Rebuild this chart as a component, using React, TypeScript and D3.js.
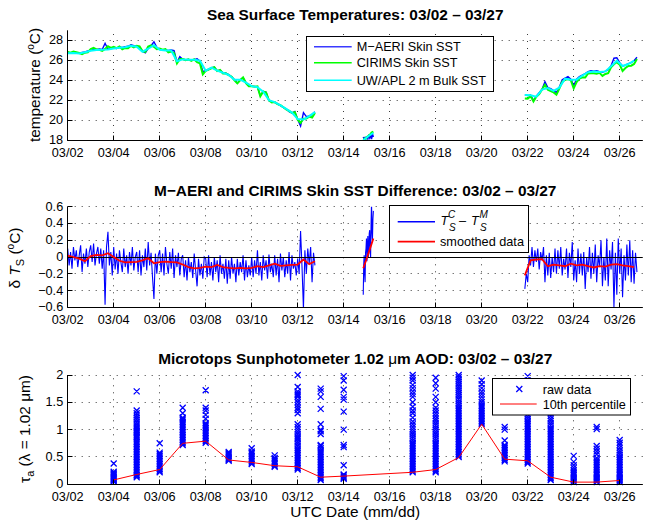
import React from "react";
import * as d3 from "d3";

const FONT = "'Liberation Sans', Arial, Helvetica, sans-serif";

// ---- time axis: days after 03/02 00:00 UTC ----
const dayDomain = [0, 25];
const dayTicks = [0, 2, 4, 6, 8, 10, 12, 14, 16, 18, 20, 22, 24];
const dayTickLabels = ["03/02", "03/04", "03/06", "03/08", "03/10", "03/12", "03/14", "03/16", "03/18", "03/20", "03/22", "03/24", "03/26"];

// ---- skin SST, three cruise segments sampled on regular intervals ----
const skinStarts = [0, 12.85, 19.875];
const skinSteps = [0.125, 0.04, 0.125];

const maeriSkinSst = [
  [26.74, 26.70, 26.76, 26.72, 26.70, 26.78, 26.84, 26.92, 26.98, 27.08,
   27.05, 27.12, 27.08, 27.70, 27.10, 27.18, 27.22, 27.18, 27.30, 27.28,
   27.35, 27.40, 27.55, 27.45, 27.38, 27.30, 26.90, 26.75, 27.20, 27.45,
   27.85, 27.30, 27.08, 27.02, 27.00, 26.98, 27.02, 26.96, 25.80, 26.35,
   26.10, 26.05, 26.08, 26.00, 26.06, 26.15, 25.90, 24.85, 24.95, 25.05,
   25.25, 25.30, 24.95, 25.00, 24.75, 24.70, 24.55, 24.35, 24.05, 23.70,
   24.05, 24.25, 23.75, 23.50, 23.40, 23.38, 23.30, 22.45, 22.85, 22.80,
   21.95, 21.85, 21.78, 21.62, 21.45, 21.28, 21.10, 20.85, 20.70, 20.85,
   20.05, 19.40, 20.75, 20.35, 20.42, 20.55, 20.82],
  [18.30, 18.05, 18.25, 18.15, 18.30, 18.10, 18.40, 18.20, 18.60, 18.10, 18.60, 18.30],
  [22.55, 22.45, 22.50, 21.98, 22.40, 22.75, 23.10, 23.85, 23.25, 23.15,
   22.95, 22.75, 23.30, 24.05, 24.20, 24.35, 24.10, 23.45, 24.10, 24.35,
   24.50, 24.65, 24.85, 24.95, 24.90, 24.95, 24.85, 24.78, 24.90, 25.05,
   25.45, 26.20, 26.25, 25.75, 25.40, 25.50, 25.65, 25.75, 25.95, 26.30],
];

// CIRIMS minus M-AERI skin temperature, sampled twice as often as maeriSkinSst
const diffSteps = [0.0625, 0.02, 0.0625];
const cirimsMinusMaeri = [
  [0.10, -0.10, 0.06, -0.14, 0.12, -0.04, 0.08, -0.12, 0.02, 0.14, -0.18, 0.04, -0.08, 0.10, -0.12, 0.06,
   0.14, -0.06, 0.16, -0.10, 0.04, 0.12, -0.08, 0.10, -0.14, 0.08, -0.57, 0.12, 0.30, -0.10, 0.06, -0.22,
   0.12, -0.15, 0.04, -0.20, 0.08, -0.06, -0.18, 0.10, -0.12, 0.02, -0.20, 0.06, -0.10, 0.12, -0.16, 0.00,
   0.06, -0.18, 0.08, -0.22, 0.02, -0.12, 0.10, -0.16, 0.18, -0.10, 0.05, -0.24, -0.50, 0.04, -0.20, 0.02,
   0.08, -0.18, 0.04, -0.22, 0.12, -0.08, -0.20, 0.06, -0.14, 0.10, -0.25, 0.02, -0.12, 0.05, -0.22, -0.02,
   0.02, -0.24, -0.04, -0.28, 0.00, -0.18, -0.06, -0.25, 0.04, -0.16, -0.35, -0.02, -0.22, -0.08, -0.26, 0.00,
   -0.02, -0.24, 0.02, -0.22, -0.06, -0.28, 0.00, -0.18, -0.04, -0.30, 0.02, -0.20, -0.08, -0.26, -0.02, -0.32,
   -0.04, -0.26, 0.00, -0.20, -0.08, -0.30, -0.02, -0.22, -0.06, -0.18, 0.02, -0.28, -0.04, -0.24, -0.10, -0.22,
   0.00, -0.24, -0.04, -0.20, 0.08, -0.22, -0.06, -0.28, 0.02, -0.16, -0.04, -0.26, 0.03, -0.18, -0.08, -0.24,
   0.02, -0.22, -0.02, -0.30, 0.04, -0.16, 0.00, -0.24, -0.04, -0.20, 0.06, -0.28, 0.02, -0.14, -0.06, -0.22,
   -0.02, -0.20, 0.31, -0.12, -0.62, 0.08, -0.20, 0.10, -0.08, 0.12, -0.30, 0.05, -0.10],
  [-0.45, -0.10, 0.02, -0.20, -0.30, 0.05, 0.10, 0.22, -0.05, 0.12, 0.25, 0.00,
   0.05, 0.28, 0.32, 0.08, 0.00, 0.40, 0.65, 0.30, 0.20, 0.45, 0.55],
  [-0.38, -0.20, -0.30, 0.02, -0.10, 0.12, -0.12, 0.08, -0.06, 0.10, -0.15, 0.06, -0.04, 0.12, -0.30, 0.02,
   -0.22, 0.05, -0.25, 0.00, -0.18, 0.10, -0.20, 0.08, -0.14, 0.12, -0.22, -0.02, -0.15, 0.10, -0.25, 0.05,
   -0.12, 0.18, -0.28, -0.04, -0.30, 0.10, -0.20, 0.04, -0.22, 0.06, -0.38, 0.00, -0.18, 0.12, -0.26, 0.05,
   -0.20, 0.15, -0.30, 0.02, -0.12, 0.20, -0.35, 0.00, -0.28, 0.22, -0.35, 0.08, -0.15, 0.18, -0.60, 0.05,
   -0.45, 0.22, -0.20, 0.10, -0.48, 0.02, -0.28, 0.15, -0.22, 0.20, -0.30, 0.08, -0.32, 0.05, -0.18],
];

// ---- bulk SST and smoothed difference on a coarser grid ----
const bulkStarts = [0, 12.85, 19.875];
const bulkSteps = [0.25, 0.11, 0.25];

const uwBulkSst = [
  [26.70, 26.72, 26.68, 26.80, 26.95, 27.02, 27.05, 27.08, 27.18, 27.25,
   27.30, 27.45, 27.35, 26.85, 27.15, 27.50, 27.05, 26.98, 26.98, 25.90,
   26.08, 26.05, 26.04, 25.95, 24.95, 25.25, 24.95, 24.75, 24.52, 24.05,
   24.05, 23.75, 23.40, 23.30, 22.85, 22.00, 21.80, 21.48, 21.12, 20.75,
   20.10, 20.05, 20.40, 20.80],
  [18.00, 18.18, 18.38, 18.55, 18.72],
  [22.52, 22.48, 22.35, 23.05, 23.20, 22.92, 23.25, 24.15, 24.05, 24.05,
   24.45, 24.80, 24.88, 24.82, 24.88, 25.40, 25.95, 25.42, 25.62, 25.95],
];

const smoothedDiff = [
  [0.015, 0.00, -0.02, -0.05, 0.01, 0.025, 0.02, 0.045, 0.00, -0.045,
   -0.065, -0.06, -0.058, -0.04, -0.015, -0.075, -0.06, -0.055, -0.06, -0.065,
   -0.09, -0.12, -0.135, -0.13, -0.115, -0.12, -0.095, -0.12, -0.13, -0.135,
   -0.13, -0.135, -0.13, -0.11, -0.12, -0.10, -0.08, -0.105, -0.10, -0.095,
   -0.09, -0.03, -0.085, -0.05],
  [-0.135, -0.05, 0.04, 0.13, 0.22],
  [-0.22, -0.04, -0.03, -0.025, -0.11, -0.09, -0.10, -0.11, -0.08, -0.10,
   -0.09, -0.11, -0.125, -0.11, -0.115, -0.09, -0.085, -0.10, -0.11, -0.12],
];

const sstTicks = [18, 20, 22, 24, 26, 28];
const sstTickLabels = ["18", "20", "22", "24", "26", "28"];
const diffTicks = [-0.6, -0.4, -0.2, 0, 0.2, 0.4, 0.6];
const diffTickLabels = ["\u22120.6", "\u22120.4", "\u22120.2", "0", "0.2", "0.4", "0.6"];
const aodTicks = [0, 0.5, 1, 1.5, 2];
const aodTickLabels = ["0", "0.5", "1", "1.5", "2"];

// ---- Microtops AOD at 1.02 um ----
const aodDays = [2, 3, 4, 5, 6, 7, 8, 9, 10, 11, 12, 15, 16, 17, 18, 19, 20, 21, 22, 23, 24];
const aodRaw = [
  [0.05, 0.06, 0.07, 0.08, 0.09, 0.10, 0.11, 0.12, 0.13, 0.15, 0.17, 0.19, 0.21, 0.23, 0.38],
  [0.13, 0.15, 0.17, 0.20, 0.23, 0.26, 0.29, 0.32, 0.35, 0.38, 0.41, 0.44, 0.47, 0.50, 0.53, 0.56, 0.59, 0.62, 0.65, 0.68, 0.71, 0.74, 0.77, 0.80, 0.84, 0.87, 0.90, 0.93, 0.95, 0.98, 1.00, 1.03, 1.06, 1.10, 1.14, 1.18, 1.22, 1.26, 1.30, 1.35, 1.70],
  [0.22, 0.25, 0.28, 0.31, 0.34, 0.37, 0.40, 0.43, 0.46, 0.49, 0.52, 0.55, 0.58, 0.75],
  [0.72, 0.75, 0.78, 0.81, 0.84, 0.87, 0.90, 0.93, 0.96, 0.99, 1.02, 1.05, 1.08, 1.11, 1.14, 1.17, 1.20, 1.22, 1.30, 1.40],
  [0.76, 0.79, 0.82, 0.85, 0.88, 0.91, 0.94, 0.97, 1.00, 1.03, 1.06, 1.09, 1.12, 1.20, 1.27, 1.35, 1.40, 1.72],
  [0.43, 0.45, 0.47, 0.49, 0.51, 0.53, 0.55, 0.57, 0.59],
  [0.37, 0.40, 0.43, 0.46, 0.49, 0.52, 0.55, 0.58, 0.60, 0.66],
  [0.32, 0.34, 0.37, 0.40, 0.43, 0.46, 0.48, 0.53],
  [0.27, 0.30, 0.33, 0.36, 0.39, 0.42, 0.45, 0.48, 0.51, 0.54, 0.57, 0.60, 0.63, 0.66, 0.70, 0.74, 0.78, 0.82, 0.85, 0.88, 0.92, 0.96, 1.00, 1.05, 1.10, 1.30, 1.36, 1.40, 1.45, 1.50, 1.55, 1.60, 1.63, 1.66, 1.70, 1.78, 2.00],
  [0.08, 0.11, 0.14, 0.17, 0.20, 0.23, 0.26, 0.29, 0.32, 0.35, 0.38, 0.41, 0.44, 0.47, 0.50, 0.53, 0.56, 0.59, 0.62, 0.66, 0.70, 0.72, 0.92, 0.97, 1.00, 1.10, 1.38, 1.60, 1.70, 1.75],
  [0.10, 0.12, 0.14, 0.16, 0.18, 0.35, 0.68, 0.72, 1.00, 1.33, 1.55, 1.60, 1.73, 1.90, 1.98],
  [0.22, 0.25, 0.28, 0.31, 0.34, 0.37, 0.40, 0.43, 0.46, 0.49, 0.52, 0.55, 0.58, 0.61, 0.64, 0.67, 0.70, 0.73, 0.76, 0.80, 0.84, 0.88, 0.92, 0.96, 1.00, 1.05, 1.10, 1.15, 1.22, 1.30, 1.35, 1.42, 1.50, 1.60, 1.65, 1.70, 1.76, 1.82, 1.90, 1.95, 2.00],
  [0.22, 0.25, 0.28, 0.31, 0.34, 0.37, 0.40, 0.43, 0.46, 0.49, 0.52, 0.55, 0.58, 0.61, 0.64, 0.67, 0.70, 0.73, 0.76, 0.80, 0.84, 0.88, 0.92, 0.96, 1.00, 1.04, 1.08, 1.12, 1.16, 1.20, 1.25, 1.30, 1.35, 1.40, 1.50, 1.60, 1.75, 1.85, 1.95],
  [0.50, 0.53, 0.56, 0.59, 0.62, 0.65, 0.68, 0.71, 0.74, 0.77, 0.80, 0.83, 0.86, 0.89, 0.92, 0.95, 0.98, 1.01, 1.04, 1.07, 1.10, 1.13, 1.16, 1.19, 1.22, 1.25, 1.28, 1.31, 1.34, 1.37, 1.40, 1.44, 1.48, 1.52, 1.56, 1.60, 1.64, 1.68, 1.72, 1.76, 1.80, 1.84, 1.88, 1.92, 1.96, 2.00],
  [1.10, 1.13, 1.16, 1.19, 1.22, 1.25, 1.28, 1.31, 1.34, 1.37, 1.40, 1.43, 1.46, 1.50, 1.55, 1.60, 1.65, 1.70, 1.76, 1.83, 1.90],
  [0.42, 0.45, 0.48, 0.51, 0.54, 0.57, 0.60, 0.63, 0.66, 0.69, 0.72, 0.80, 1.00, 1.05],
  [0.38, 0.41, 0.44, 0.47, 0.50, 0.53, 0.56, 0.59, 0.62, 0.65, 0.68, 0.71, 0.74, 0.77, 0.80, 0.83, 0.86, 0.89, 0.92, 0.95, 0.98, 1.01, 1.04, 1.07, 1.10, 1.13, 1.16, 1.20, 1.24, 1.28, 1.33, 1.40, 1.50, 1.60, 1.70, 1.80, 1.90, 1.98],
  [0.08, 0.11, 0.14, 0.17, 0.20, 0.23, 0.26, 0.29, 0.32, 0.35, 0.38, 0.41, 0.44, 0.47, 0.50, 0.53, 0.56, 0.59, 0.62, 0.65, 0.68, 0.71, 0.74, 0.77, 0.80, 0.83, 0.86, 0.89, 0.92, 0.95, 0.98, 1.01, 1.04, 1.08, 1.12, 1.16, 1.20, 1.25, 1.30, 1.40, 1.55, 1.70],
  [0.04, 0.06, 0.08, 0.10, 0.12, 0.14, 0.16, 0.18, 0.20, 0.23, 0.26, 0.30, 0.35, 0.41, 0.52],
  [0.04, 0.06, 0.08, 0.10, 0.12, 0.14, 0.16, 0.18, 0.20, 0.23, 0.26, 0.29, 0.32, 0.35, 0.38, 0.41, 0.44, 0.48, 0.55, 0.60, 0.65, 0.70, 1.01, 1.05],
  [0.04, 0.06, 0.08, 0.10, 0.12, 0.14, 0.16, 0.18, 0.20, 0.23, 0.26, 0.29, 0.32, 0.35, 0.38, 0.41, 0.44, 0.47, 0.50, 0.54, 0.58, 0.62, 0.67, 0.72, 0.76, 0.81],
];
const aodP10 = [0.08, 0.18, 0.27, 0.75, 0.79, 0.445, 0.40, 0.34, 0.32, 0.13, 0.15, 0.22, 0.27, 0.49, 1.10, 0.46, 0.43, 0.13, 0.04, 0.04, 0.07];

// ---- layout ----
const W = 645;
const H = 522;
const X0 = 67.7;
const X1 = 642.7;
const x = d3.scaleLinear().domain(dayDomain).range([X0, X1]);
const ySst = d3.scaleLinear().domain([18, 29]).range([140, 30.3]);
const yDiff = d3.scaleLinear().domain([-0.6, 0.6]).range([307.3, 206.7]);
const yAod = d3.scaleLinear().domain([0, 2]).range([484.3, 375]);

type Pt = { t: number; v: number };
const toSeries = (start: number, step: number, values: number[]): Pt[] =>
  values.map((v, i) => ({ t: start + i * step, v }));

const maeriSeg = maeriSkinSst.map((vals, k) => toSeries(skinStarts[k], skinSteps[k], vals));
// CIRIMS skin SST = M-AERI skin SST + (CIRIMS - M-AERI) at the matching sample time
const cirimsSeg = maeriSkinSst.map((vals, k) =>
  toSeries(skinStarts[k], skinSteps[k], vals.map((v, i) => v + cirimsMinusMaeri[k][2 * i]))
);
const diffSeg = cirimsMinusMaeri.map((vals, k) => toSeries(skinStarts[k], diffSteps[k], vals));
const bulkSeg = uwBulkSst.map((vals, k) => toSeries(bulkStarts[k], bulkSteps[k], vals));
const smoothSeg = smoothedDiff.map((vals, k) => toSeries(bulkStarts[k], bulkSteps[k], vals));

const lineFor = (y: d3.ScaleLinear<number, number>) =>
  d3.line<Pt>().x((p) => x(p.t)).y((p) => y(p.v));

const px = (v: number) => Math.floor(v) + 0.5;

type PanelProps = {
  id: string;
  y: d3.ScaleLinear<number, number>;
  ticks: number[];
  tickLabels: string[];
  children?: React.ReactNode;
  overlay?: React.ReactNode;
};

function Panel({ id, y, ticks, tickLabels, children, overlay }: PanelProps) {
  const [yb, yt] = y.range();
  return (
    <g>
      <clipPath id={id}>
        <rect x={X0} y={yt} width={X1 - X0} height={yb - yt} />
      </clipPath>
      <g stroke="#3c3c3c" strokeWidth={1} strokeDasharray="1 6" fill="none">
        {dayTicks.slice(1).map((d) => (
          <line key={`gx${d}`} x1={px(x(d))} x2={px(x(d))} y1={yb} y2={yt} />
        ))}
        {ticks.map((v) => (
          <line key={`gy${v}`} x1={X0} x2={X1} y1={px(y(v))} y2={px(y(v))} />
        ))}
      </g>
      <g clipPath={`url(#${id})`}>{children}</g>
      {overlay}
      <g stroke="#000" strokeWidth={1}>
        <line x1={px(X0)} x2={px(X0)} y1={yt} y2={px(yb)} />
        <line x1={px(X0)} x2={X1} y1={px(yb)} y2={px(yb)} />
        {dayTicks.map((d) => (
          <line key={`tx${d}`} x1={px(x(d))} x2={px(x(d))} y1={px(yb)} y2={px(yb) - 5} />
        ))}
        {ticks.map((v) => (
          <line key={`ty${v}`} x1={px(X0)} x2={px(X0) + 5} y1={px(y(v))} y2={px(y(v))} />
        ))}
      </g>
      <g fontFamily={FONT} fontSize={12.7} fill="#000">
        {dayTicks.map((d, i) => (
          <text key={`lx${d}`} x={x(d)} y={yb + 16.8} textAnchor="middle">
            {dayTickLabels[i]}
          </text>
        ))}
        {ticks.map((v, i) => (
          <text key={`ly${v}`} x={X0 - 4.5} y={y(v) + 4} textAnchor="end">
            {tickLabels[i]}
          </text>
        ))}
      </g>
    </g>
  );
}

const markerPath = (cx: number, cy: number, r: number) =>
  `M${cx - r},${cy - r}L${cx + r},${cy + r}M${cx - r},${cy + r}L${cx + r},${cy - r}`;

export default function App() {
  const sstLine = lineFor(ySst);
  const diffLine = lineFor(yDiff);
  const aodLine = d3
    .line<number>()
    .x((_, i) => x(aodDays[i]))
    .y((v) => yAod(v));

  const rawMarks = aodDays
    .flatMap((d, k) => aodRaw[k].map((v) => markerPath(x(d), yAod(v), 3)))
    .join("");

  const midX = (X0 + X1) / 2;

  return (
    <svg
      width={W}
      height={H}
      viewBox={`0 0 ${W} ${H}`}
      style={{ position: "absolute", left: 0, top: 0, background: "#fff" }}
    >
      <rect x={0} y={0} width={W} height={H} fill="#fff" />

      {/* Panel 1: sea surface temperatures */}
      <text x={midX} y={20.3} textAnchor="middle" fontFamily={FONT} fontSize={15.4} fontWeight="bold">
        Sea Surface Temperatures: 03/02 – 03/27
      </text>
      <Panel id="clip-sst" y={ySst} ticks={sstTicks} tickLabels={sstTickLabels}>
        {maeriSeg.map((s, k) => (
          <path key={`m${k}`} d={sstLine(s) ?? ""} fill="none" stroke="#0000ff" strokeWidth={1.4} />
        ))}
        {cirimsSeg.map((s, k) => (
          <path key={`c${k}`} d={sstLine(s) ?? ""} fill="none" stroke="#00ff00" strokeWidth={2} />
        ))}
        {bulkSeg.map((s, k) => (
          <path key={`b${k}`} d={sstLine(s) ?? ""} fill="none" stroke="#00ffff" strokeWidth={2} />
        ))}
      </Panel>
      <text
        transform="translate(39.5,85) rotate(-90)"
        textAnchor="middle"
        fontFamily={FONT}
        fontSize={15.4}
      >
        temperature (<tspan dy={-6} fontSize={10}>o</tspan>
        <tspan dy={6}>C)</tspan>
      </text>
      <g fontFamily={FONT} fontSize={12.7}>
        <rect x={306.5} y={36.5} width={187} height={55} fill="#fff" stroke="#000" strokeWidth={1} />
        <line x1={314} x2={351.7} y1={46.7} y2={46.7} stroke="#3a3aff" strokeWidth={1.5} />
        <line x1={314} x2={351.7} y1={62.7} y2={62.7} stroke="#00ff00" strokeWidth={1.5} />
        <line x1={314} x2={351.7} y1={80.3} y2={80.3} stroke="#00ffff" strokeWidth={1.5} />
        <text x={356.7} y={51.2}>M{"\u2212"}AERI Skin SST</text>
        <text x={356.7} y={67.2}>CIRIMS Skin SST</text>
        <text x={356.7} y={84.8}>UW/APL 2 m Bulk SST</text>
      </g>

      {/* Panel 2: skin SST difference */}
      <text x={midX} y={196} textAnchor="middle" fontFamily={FONT} fontSize={15.4} fontWeight="bold">
        M{"\u2212"}AERI and CIRIMS Skin SST Difference: 03/02 – 03/27
      </text>
      <Panel id="clip-diff" y={yDiff} ticks={diffTicks} tickLabels={diffTickLabels}>
        {diffSeg.map((s, k) => (
          <path key={`d${k}`} d={diffLine(s) ?? ""} fill="none" stroke="#0000ff" strokeWidth={1.1} />
        ))}
        <line x1={X0} x2={X1} y1={px(yDiff(0))} y2={px(yDiff(0))} stroke="#000" strokeWidth={1} />
        {smoothSeg.map((s, k) => (
          <path key={`s${k}`} d={diffLine(s) ?? ""} fill="none" stroke="#ff0000" strokeWidth={1.8} />
        ))}
      </Panel>
      <text
        transform="translate(19.5,258) rotate(-90)"
        textAnchor="middle"
        fontFamily={FONT}
        fontSize={15.4}
      >
        δ <tspan fontStyle="italic">T</tspan>
        <tspan dy={4} fontSize={11}>S</tspan>
        <tspan dy={-4}> (</tspan>
        <tspan dy={-6} fontSize={10}>o</tspan>
        <tspan dy={6}>C)</tspan>
      </text>
      <g fontFamily={FONT}>
        <rect x={389.5} y={205.5} width={139} height={47} fill="#fff" stroke="#000" strokeWidth={1} />
        <line x1={397.7} x2={435} y1={221.7} y2={221.7} stroke="#0000ff" strokeWidth={1.5} />
        <line x1={397.7} x2={435} y1={241.7} y2={241.7} stroke="#ff0000" strokeWidth={1.8} />
        <text x={440.5} y={225} fontSize={12.7} fontStyle="italic">T</text>
        <text x={448} y={217.5} fontSize={10} fontStyle="italic">C</text>
        <text x={449} y={231} fontSize={10} fontStyle="italic">S</text>
        <text x={459} y={225} fontSize={12.7}>{"\u2013"}</text>
        <text x={471} y={225} fontSize={12.7} fontStyle="italic">T</text>
        <text x={479.5} y={217.5} fontSize={10} fontStyle="italic">M</text>
        <text x={480} y={231} fontSize={10} fontStyle="italic">S</text>
        <text x={440} y={246.2} fontSize={12.7}>smoothed data</text>
      </g>

      {/* Panel 3: aerosol optical depth */}
      <text x={midX} y={364} textAnchor="middle" fontFamily={FONT} fontSize={15.4} fontWeight="bold">
        Microtops Sunphotometer 1.02 <tspan fontWeight="normal">μ</tspan>m AOD: 03/02 – 03/27
      </text>
      <Panel
        id="clip-aod"
        y={yAod}
        ticks={aodTicks}
        tickLabels={aodTickLabels}
        overlay={
          <g>
            <path d={rawMarks} fill="none" stroke="#0000ff" strokeWidth={1.3} />
            <path d={aodLine(aodP10) ?? ""} fill="none" stroke="#ff0000" strokeWidth={1} />
          </g>
        }
      />
      <text
        transform="translate(30,429) rotate(-90)"
        textAnchor="middle"
        fontFamily={FONT}
        fontSize={15.4}
      >
        τ<tspan dy={4} fontSize={11}>a</tspan>
        <tspan dy={-4}> (λ = 1.02 μm)</tspan>
      </text>
      <text x={midX} y={517.3} textAnchor="middle" fontFamily={FONT} fontSize={15.4}>
        UTC Date (mm/dd)
      </text>
      <g fontFamily={FONT} fontSize={12.7}>
        <rect x={492.5} y={378.5} width={138} height={36.5} fill="#fff" stroke="#000" strokeWidth={1} />
        <path d={markerPath(519.3, 389, 3)} fill="none" stroke="#0000ff" strokeWidth={1.3} />
        <line x1={500} x2={536.7} y1={404} y2={404} stroke="#ff0000" strokeWidth={1} />
        <text x={542.7} y={393.5}>raw data</text>
        <text x={542.7} y={408.5}>10th percentile</text>
      </g>
    </svg>
  );
}
